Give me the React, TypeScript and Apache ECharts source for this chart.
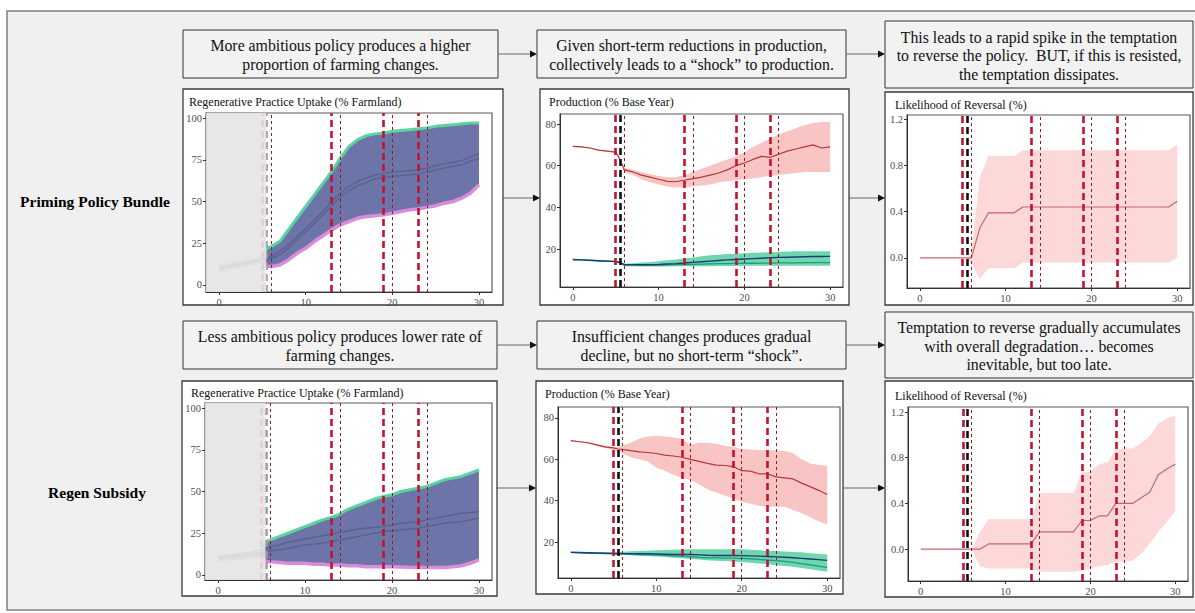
import { useEffect, useRef } from 'react';
import * as echarts from 'echarts';

// ---------- data ----------
const YEARS = [0, 1, 2, 3, 4, 5, 5.5, 6, 7, 8, 9, 10, 11, 12, 13, 14, 15, 16, 17, 18, 19, 20, 21, 22, 23, 24, 25, 26, 27, 28, 29, 30];

const X_TICKS = [0, 10, 20, 30];
const UPTAKE_TICKS = [0, 25, 50, 75, 100];
const PROD_TICKS = [20, 40, 60, 80];
const LIKE_TICKS = [0, 0.4, 0.8, 1.2];

const THICK_RED_YEARS = [5, 13, 19, 23];
const THIN_RED_YEARS = [6, 14, 20, 24];
const BLACK_YEAR = 5.5;
const NOISE_START = -1.5;
const NOISE_END = 5.45;

const ROW_LABELS = ['Priming Policy Bundle', 'Regen Subsidy'];
const CHART_TITLES = ['Regenerative Practice Uptake (% Farmland)', 'Production (% Base Year)', 'Likelihood of Reversal (%)'];
const NOTES = [
  ['More ambitious policy produces a higher', 'proportion of farming changes.'],
  ['Given short-term reductions in production,', 'collectively leads to a \u201cshock\u201d to production.'],
  ['This leads to a rapid spike in the temptation', 'to reverse the policy.  BUT, if this is resisted,', 'the temptation dissipates.'],
  ['Less ambitious policy produces lower rate of', 'farming changes.'],
  ['Insufficient changes produces gradual', 'decline, but no short-term \u201cshock\u201d.'],
  ['Temptation to reverse gradually accumulates', 'with overall degradation\u2026 becomes', 'inevitable, but too late.'],
];

// Priming Policy Bundle – uptake
const P_UP_MEAN_A = [10, 11, 12, 13, 14, 15, 16, 17, 20, 24, 29, 34, 39, 44, 50, 55, 59, 62, 64, 66, 67, 67.5, 68, 68.5, 69, 70, 71.5, 72.5, 73.5, 74.5, 76.5, 79];
const P_UP_MEAN_B = [10, 11, 12, 13, 14, 15, 15.5, 16, 18, 22, 27, 32, 37, 42, 47.5, 52.5, 56.5, 59.5, 61.5, 63.5, 64.5, 65, 65.5, 66, 66.5, 67.5, 69, 70, 71, 72, 74, 76];
const P_UP_HIGH = [11, 12, 13, 14, 15, 16, 22, 23, 26, 33, 40, 47, 54, 61, 68, 76, 83, 87, 89.5, 90.5, 91, 92, 92.5, 93, 93.5, 94, 95, 95.5, 96, 96.5, 97, 97];
const P_UP_LOW = [9, 10, 11, 12, 13, 14, 11, 11, 12, 15, 19, 22, 26, 29.5, 33, 36, 38, 40, 41, 41.5, 42, 43, 44, 45, 45.5, 46.5, 47.5, 49, 50, 52, 55, 60];

// Priming Policy Bundle – production
const P_PROD_RED = [69.3, 69, 68.5, 67.5, 67, 66.5, 63, 58, 57, 55.5, 54.5, 53.5, 52.5, 52.3, 53, 53.8, 54.5, 55.5, 56.5, 58, 60, 61.3, 63, 64.5, 64, 65.5, 67, 68, 69, 70, 68.5, 69];
const P_PROD_RED_HIGH = [69.6, 69.3, 68.8, 67.8, 67.3, 66.8, 63.5, 59, 58, 57, 56, 55, 54.5, 54.5, 55.5, 57, 58.5, 60, 61.5, 63, 64.5, 66.5, 69, 71, 73, 75, 76.5, 78, 79.5, 80.5, 81, 81];
const P_PROD_RED_LOW = [69, 68.7, 68.2, 67.2, 66.7, 66, 62, 57, 55.5, 53.5, 52, 51, 50, 49.5, 49.5, 50, 50.5, 51, 52, 52.5, 53, 53.5, 54, 54.5, 55, 55.5, 56, 56.5, 57, 57, 57, 57];
const P_PROD_BLUE = [15, 14.8, 14.6, 14.4, 14.2, 14, 13.5, 12.5, 12.5, 12.5, 12.5, 12.6, 12.8, 13, 13.3, 13.6, 13.9, 14.2, 14.5, 14.8, 15, 15.2, 15.4, 15.6, 15.8, 16, 16.1, 16.2, 16.3, 16.4, 16.4, 16.5];
const P_PROD_TEAL = [15, 14.8, 14.6, 14.4, 14.2, 14, 13.5, 12.5, 12.4, 12.3, 12.3, 12.3, 12.4, 12.5, 12.6, 12.7, 12.8, 12.9, 13, 13, 13.1, 13.2, 13.2, 13.3, 13.3, 13.4, 13.4, 13.4, 13.5, 13.5, 13.5, 13.5];
const P_PROD_GREEN_HIGH = [15.2, 15, 14.8, 14.6, 14.4, 14.2, 13.8, 13, 13.2, 13.5, 13.8, 14.2, 14.6, 15, 15.5, 16, 16.5, 17, 17.3, 17.6, 17.8, 18, 18.2, 18.4, 18.5, 18.7, 18.8, 18.9, 19, 19, 19, 19];
const P_PROD_GREEN_LOW = [14.8, 14.6, 14.4, 14.2, 14, 13.8, 12.8, 11.8, 11.7, 11.6, 11.6, 11.6, 11.6, 11.7, 11.7, 11.8, 11.8, 11.8, 11.9, 11.9, 11.9, 12, 12, 12, 12, 12, 12, 12, 12, 12, 12, 12];

// Priming Policy Bundle – likelihood of reversal
const P_LIKE = [0, 0, 0, 0, 0, 0, 0, 0, 0.26, 0.39, 0.39, 0.39, 0.39, 0.44, 0.44, 0.44, 0.44, 0.44, 0.44, 0.44, 0.44, 0.44, 0.44, 0.44, 0.44, 0.44, 0.44, 0.44, 0.44, 0.44, 0.44, 0.49];
const P_LIKE_HIGH = [0, 0, 0, 0, 0, 0, 0, 0.05, 0.7, 0.88, 0.88, 0.88, 0.88, 0.93, 0.93, 0.93, 0.93, 0.93, 0.93, 0.93, 0.93, 0.93, 0.93, 0.93, 0.93, 0.93, 0.93, 0.93, 0.93, 0.93, 0.93, 0.98];
const P_LIKE_LOW = [0, 0, 0, 0, 0, 0, 0, -0.05, -0.18, -0.09, -0.09, -0.09, -0.09, -0.04, -0.04, -0.04, -0.04, -0.04, -0.04, -0.04, -0.04, -0.04, -0.04, -0.04, -0.04, -0.04, -0.04, -0.04, -0.04, -0.04, -0.04, 0];

// Regen Subsidy – uptake
const R_UP_MEAN_A = [10, 11, 12, 13, 14, 15, 16, 17, 18, 19.5, 20.5, 21.5, 22.5, 23.5, 24.5, 25.5, 26.5, 27.5, 28, 28.5, 29, 30, 31, 31.5, 32, 33, 34, 35, 36, 37, 37.5, 38];
const R_UP_MEAN_B = [10, 10.5, 11, 11.5, 12, 13, 14, 14.5, 15, 16, 17, 18, 18.5, 19, 20, 21, 22, 23, 24, 25, 26, 26.5, 27, 27.5, 28, 29, 30, 31, 31.5, 32, 33, 34];
const R_UP_HIGH = [11, 11.5, 12, 12.5, 13, 14, 20, 21, 23, 25, 27, 29, 31, 33, 34.5, 36.5, 39.5, 41.5, 43.5, 45.5, 47, 48, 50, 51, 52, 53, 55, 57, 58, 59, 61, 63];
const R_UP_LOW = [9, 9.5, 10, 10.5, 11, 12, 8, 8, 7.5, 7, 7, 7, 6.5, 6.5, 6, 6, 5.5, 5.5, 5, 5, 5, 5, 4.8, 4.6, 4.5, 4.5, 4.5, 4.5, 5, 5.5, 7, 9];

// Regen Subsidy – production
const R_PROD_RED = [69, 68.5, 68, 67, 66, 65.5, 65, 64.8, 64.2, 63.6, 63.3, 62.8, 62, 61.6, 61, 60, 59, 58, 57.2, 57, 56.5, 54.5, 54.3, 53, 53, 51.5, 51, 50.5, 48.5, 46.8, 45, 43];
const R_PROD_RED_HIGH = [69.3, 68.8, 68.3, 67.4, 66.5, 66, 66, 66.5, 68, 70, 71, 71.3, 71, 70.5, 70, 67, 68, 68, 67.5, 66.5, 66, 65, 64.8, 64.5, 64.5, 64.3, 64, 63, 60, 58, 57.3, 57];
const R_PROD_RED_LOW = [68.7, 68.2, 67.7, 66.6, 65.5, 64.5, 64, 63, 61, 60, 59, 56, 54.5, 52.5, 51, 50, 48, 45.5, 44, 42.5, 41, 39.5, 38.5, 37.5, 37, 37, 37, 35.5, 34, 32, 30, 28.5];
const R_PROD_BLUE = [15, 14.9, 14.8, 14.7, 14.6, 14.5, 14.5, 14.4, 14.4, 14.3, 14.3, 14.2, 14.1, 14, 14, 14, 13.8, 13.6, 13.5, 13.5, 13.5, 13.4, 13.3, 13.2, 13, 12.8, 12.6, 12.4, 12.1, 11.8, 11.5, 11.1];
const R_PROD_TEAL = [15, 14.8, 14.6, 14.5, 14.4, 14.3, 14.2, 14.1, 14, 13.9, 13.8, 13.7, 13.5, 13.3, 13.1, 12.9, 12.6, 12.4, 12.3, 12.2, 12.2, 12.1, 11.9, 11.6, 11.3, 11, 10.6, 10.2, 9.6, 9, 8.3, 7.6];
const R_PROD_GREEN_HIGH = [15.3, 15.2, 15.1, 15, 15, 15, 15.1, 15.3, 15.5, 15.6, 15.8, 16, 16.2, 16.3, 16.4, 16.5, 16.5, 16.5, 16.5, 16.5, 16.5, 16.5, 16.3, 16, 15.8, 15.6, 15.4, 15.2, 15, 14.6, 14.3, 14];
const R_PROD_GREEN_LOW = [14.7, 14.6, 14.4, 14.3, 14.2, 14, 13.9, 13.8, 13.6, 13.4, 13.2, 13, 12.7, 12.4, 12.1, 11.8, 11.5, 11.2, 11, 10.8, 10.6, 10.3, 10, 9.6, 9.2, 8.8, 8.4, 8, 7.4, 6.8, 6.2, 5.6];

// Regen Subsidy – likelihood of reversal
const R_LIKE = [0, 0, 0, 0, 0, 0, 0, 0, 0, 0.045, 0.045, 0.045, 0.045, 0.045, 0.045, 0.15, 0.15, 0.15, 0.15, 0.15, 0.25, 0.25, 0.29, 0.29, 0.4, 0.4, 0.4, 0.45, 0.5, 0.65, 0.7, 0.745];
const R_LIKE_HIGH = [0, 0, 0, 0, 0, 0, 0, 0, 0.15, 0.26, 0.26, 0.26, 0.26, 0.26, 0.26, 0.49, 0.49, 0.49, 0.49, 0.49, 0.67, 0.68, 0.74, 0.76, 0.87, 0.88, 0.88, 0.93, 0.99, 1.1, 1.14, 1.17];
const R_LIKE_LOW = [0, 0, 0, 0, 0, 0, 0, 0, -0.15, -0.17, -0.17, -0.17, -0.17, -0.17, -0.17, -0.2, -0.2, -0.2, -0.2, -0.2, -0.19, -0.17, -0.15, -0.14, -0.11, -0.11, -0.1, -0.04, 0.05, 0.15, 0.24, 0.33];

// ---------- layout & style ----------
const FONT = '"Liberation Serif", "Times New Roman", serif';
const LAYOUT = [
  { panel: [183, 89, 320, 216], title: [189, 102], grid: [206, 113, 286, 179], y: [-4.2, 103] },
  { panel: [540, 89, 309, 216], title: [549, 102], grid: [560, 114, 283, 173], y: [1.8, 84.8] },
  { panel: [885, 92, 308, 213], title: [895, 105], grid: [907, 115, 283, 173], y: [-0.26, 1.235] },
  { panel: [182, 381, 315, 215], title: [191, 393], grid: [205, 403, 287, 177], y: [-3, 103] },
  { panel: [536, 381, 307, 213], title: [545, 394], grid: [558, 407, 282, 171], y: [2.6, 85.3] },
  { panel: [885, 381, 308, 216], title: [895, 396], grid: [908, 407, 280, 174], y: [-0.28, 1.244] },
];
const BOXES = [
  [183, 30, 315, 48], [537, 30, 309, 48], [885, 21, 308, 67],
  [183, 321, 314, 48], [537, 321, 309, 48], [885, 312, 308, 66],
];
const ARROWS = [
  [498, 537, 54], [846, 885, 54], [503, 540, 198], [849, 885, 198],
  [497, 537, 345], [846, 885, 345], [497, 536, 488], [843, 885, 488],
];
const ROW_LABEL_POS = [[95, 201], [97, 492]];

const pts = (arr: number[]) => arr.map((v, i) => [YEARS[i], v]);

// band drawn as one polygon through the axes' own coordinate mapping
function band(g: number, lo: number[], hi: number[], color: string, z = 3): any {
  const data = YEARS.map((x, i) => [x, lo[i], hi[i]]);
  return {
    type: 'custom', xAxisIndex: g, yAxisIndex: g, data, z, silent: true,
    encode: { x: 0, y: [1, 2] },
    renderItem: (params: any, api: any) => {
      if (params.dataIndex !== 0) return null;
      const top = data.map((d) => api.coord([d[0], d[2]]));
      const bot = data.map((d) => api.coord([d[0], d[1]])).reverse();
      return { type: 'polygon', shape: { points: top.concat(bot) }, style: { fill: color } };
    },
  };
}
function line(g: number, arr: number[], color: string, width: number, z = 4): any {
  return { type: 'line', xAxisIndex: g, yAxisIndex: g, data: pts(arr), symbol: 'none', lineStyle: { color, width }, silent: true, z };
}
function vLines(faded: boolean) {
  const data: any[] = [];
  THICK_RED_YEARS.forEach((x) => data.push({ xAxis: x, lineStyle: { color: '#c4122f', width: 2.6, type: [7, 4] } }));
  THIN_RED_YEARS.forEach((x) => data.push({ xAxis: x, lineStyle: { color: '#9b1b22', width: 1, type: [3, 3] } }));
  data.push({ xAxis: BLACK_YEAR, lineStyle: { color: faded ? '#9a9a9a' : '#111', width: 2.6, type: [7, 4] } });
  return { silent: true, symbol: ['none', 'none'], label: { show: false }, animation: false, data };
}
const noise = {
  silent: true, z: 8, animation: false,
  itemStyle: { color: '#e4e4e4', opacity: 0.9 },
  data: [[{ xAxis: NOISE_START }, { xAxis: NOISE_END }]],
};

export default function App() {
  const ref = useRef<HTMLDivElement>(null);
  useEffect(() => {
    if (!ref.current) return;
    const chart = echarts.init(ref.current, undefined, { renderer: 'svg' });

    const grids = LAYOUT.map((l) => ({
      left: l.grid[0], top: l.grid[1], width: l.grid[2], height: l.grid[3],
      show: true, backgroundColor: '#fff', borderColor: '#5a5a5a', borderWidth: 1.2, z: 1,
    }));
    const tickFor = (i: number) => (i % 3 === 0 ? UPTAKE_TICKS : i % 3 === 1 ? PROD_TICKS : LIKE_TICKS);
    const labelStyle = { color: '#4d4d4d', fontFamily: FONT, fontSize: 10.5 };
    const xAxes = LAYOUT.map((_, i) => ({
      type: 'value', gridIndex: i, min: -1.5, max: 31.5, z: 2,
      axisLine: { show: true, onZero: false, lineStyle: { color: '#333', width: 1 } },
      axisTick: { show: true, length: 3, customValues: X_TICKS, lineStyle: { color: '#333' } },
      axisLabel: { ...labelStyle, margin: 5, customValues: X_TICKS },
      splitLine: { show: false },
    }));
    const yAxes = LAYOUT.map((l, i) => ({
      type: 'value', gridIndex: i, min: l.y[0], max: l.y[1], z: 2,
      axisLine: { show: true, onZero: false, lineStyle: { color: '#333', width: 1 } },
      axisTick: { show: true, length: 3, customValues: tickFor(i), lineStyle: { color: '#333' } },
      axisLabel: {
        ...labelStyle, margin: 4, customValues: tickFor(i),
        formatter: i % 3 === 2 ? (v: number) => v.toFixed(1) : (v: number) => String(v),
      },
      splitLine: { show: false },
    }));

    const SLATE = '#6c74a8';
    const GREEN_EDGE = '#5ad3a0';
    const PINK_EDGE = '#da8cd8';
    const MEAN = '#56618e';
    const RED_BAND = '#f8c4c4';
    const RED_LINE = '#b5383c';
    const GREEN_BAND = 'rgba(72,202,150,0.78)';
    const BLUE_LINE = '#1d3d7a';
    const TEAL_LINE = '#189e86';
    const LIKE_BAND = '#fcd8d8';
    const LIKE_LINE = '#c2686c';

    const uptake = (g: number, lo: number[], hi: number[], a: number[], b: number[]) => {
      const last = line(g, b, MEAN, 1.3, 4);
      last.markLine = vLines(true);
      last.markArea = noise;
      return [
        band(g, lo, hi, SLATE),
        line(g, hi, GREEN_EDGE, 3, 3),
        line(g, lo, PINK_EDGE, 3.5, 3),
        line(g, a, MEAN, 1.3, 4),
        last,
      ];
    };
    const production = (g: number, rl: number[], rh: number[], r: number[], gl: number[], gh: number[], blue: number[], teal: number[]) => {
      const last = line(g, blue, BLUE_LINE, 1.4, 4);
      last.markLine = vLines(false);
      return [
        band(g, rl, rh, RED_BAND),
        band(g, gl, gh, GREEN_BAND),
        line(g, r, RED_LINE, 1.2, 4),
        line(g, teal, TEAL_LINE, 1.3, 4),
        last,
      ];
    };
    const likelihood = (g: number, lo: number[], hi: number[], mid: number[]) => {
      const last = line(g, mid, LIKE_LINE, 1.2, 4);
      last.markLine = vLines(false);
      return [band(g, lo, hi, LIKE_BAND), last];
    };

    const series = [
      ...uptake(0, P_UP_LOW, P_UP_HIGH, P_UP_MEAN_A, P_UP_MEAN_B),
      ...production(1, P_PROD_RED_LOW, P_PROD_RED_HIGH, P_PROD_RED, P_PROD_GREEN_LOW, P_PROD_GREEN_HIGH, P_PROD_BLUE, P_PROD_TEAL),
      ...likelihood(2, P_LIKE_LOW, P_LIKE_HIGH, P_LIKE),
      ...uptake(3, R_UP_LOW, R_UP_HIGH, R_UP_MEAN_A, R_UP_MEAN_B),
      ...production(4, R_PROD_RED_LOW, R_PROD_RED_HIGH, R_PROD_RED, R_PROD_GREEN_LOW, R_PROD_GREEN_HIGH, R_PROD_BLUE, R_PROD_TEAL),
      ...likelihood(5, R_LIKE_LOW, R_LIKE_HIGH, R_LIKE),
    ];

    const elements: any[] = [];
    elements.push({ type: 'rect', shape: { x: 7, y: 11, width: 1200, height: 599 }, style: { fill: '#f0f0f0', stroke: '#7f7f7f', lineWidth: 1.5 }, silent: true });
    BOXES.forEach((b, i) => {
      elements.push({ type: 'rect', shape: { x: b[0], y: b[1], width: b[2], height: b[3] }, style: { fill: '#f2f2f2', stroke: '#333', lineWidth: 1 }, silent: true });
      elements.push({
        type: 'text', x: b[0] + b[2] / 2, y: b[1] + b[3] / 2 + 1, silent: true,
        style: { text: NOTES[i].join('\n'), fill: '#111', font: `15.8px ${FONT}`, align: 'center', verticalAlign: 'middle', lineHeight: 18.5 },
      });
    });
    ARROWS.forEach((a) => {
      elements.push({ type: 'line', shape: { x1: a[0], y1: a[2], x2: a[1] - 6, y2: a[2] }, style: { stroke: '#666', lineWidth: 1 }, silent: true });
      elements.push({ type: 'polygon', shape: { points: [[a[1], a[2]], [a[1] - 7, a[2] - 3.5], [a[1] - 7, a[2] + 3.5]] }, style: { fill: '#111' }, silent: true });
    });
    ROW_LABELS.forEach((t, i) => {
      elements.push({
        type: 'text', x: ROW_LABEL_POS[i][0], y: ROW_LABEL_POS[i][1], silent: true,
        style: { text: t, fill: '#000', font: `bold 15.5px ${FONT}`, align: 'center', verticalAlign: 'middle' },
      });
    });
    LAYOUT.forEach((l, i) => {
      elements.push({ type: 'rect', shape: { x: l.panel[0], y: l.panel[1], width: l.panel[2], height: l.panel[3] }, style: { fill: '#fff', stroke: '#3a3a3a', lineWidth: 1.3 }, silent: true });
      elements.push({
        type: 'text', x: l.title[0], y: l.title[1], silent: true,
        style: { text: CHART_TITLES[i % 3], fill: '#111', font: `12px ${FONT}`, align: 'left', verticalAlign: 'middle' },
      });
    });

    chart.setOption({
      animation: false,
      backgroundColor: '#fff',
      grid: grids,
      xAxis: xAxes,
      yAxis: yAxes,
      series,
      graphic: { elements },
    });
    return () => chart.dispose();
  }, []);
  return <div ref={ref} style={{ position: 'absolute', left: 0, top: 0, width: 1195, height: 613 }} />;
}
